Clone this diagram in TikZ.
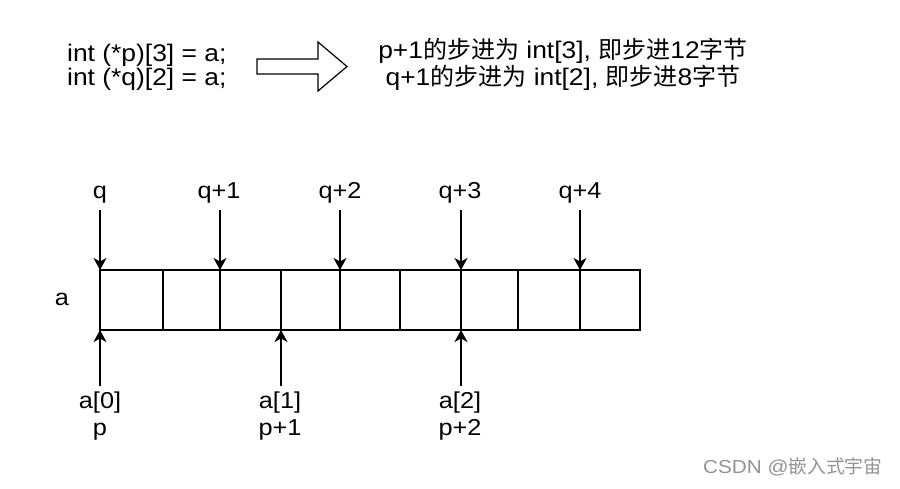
\documentclass[tikz,border=0pt]{standalone}
\usepackage{fontspec}
\setmainfont[FakeStretch=1.1]{Liberation Sans}
\newfontfamily\cjk[Scale=1.0]{Noto Sans CJK SC}
\usetikzlibrary{arrows.meta}
\begin{document}
\begin{tikzpicture}[x=1pt,y=-1pt,
  codetxt/.style={font=\fontsize{24}{23.5}\selectfont, inner sep=0pt, anchor=base west, align=left},
  steptxt/.style={font=\fontsize{24}{23.5}\selectfont, inner sep=0pt, anchor=base, align=center},
  lbl/.style={font=\fontsize{23}{27}\selectfont, inner sep=0pt, anchor=base, align=center},
  ptr/.style={line width=1.3pt, -{Stealth[length=12pt,width=13pt,inset=3.5pt]}},
  cellline/.style={line width=1.3pt},
  bigarrow/.style={line width=1.2pt, line join=miter},
  wmark/.style={font=\fontsize{18.8}{21}\selectfont, text=black!42, inner sep=0pt, anchor=base west}]
\useasboundingbox[fill=white] (0,0) rectangle (900,488);

% top texts (anchor = baseline of last line)
\node[codetxt] (decl) at (67,85) {int (*p)[3] = a;\\int (*q)[2] = a;};
\node[steptxt] (step) at (563,85) {p+1{\cjk 的步进为} int[3], {\cjk 即步进}12{\cjk 字节}\\q+1{\cjk 的步进为} int[2], {\cjk 即步进}8{\cjk 字节}};
\draw[bigarrow] (257,59) -- (318,59) -- (318,42) -- (347,66.5) -- (318,91) -- (318,74) -- (257,74) -- cycle;

% array boundaries
\foreach \x [count=\i from 0] in {100,163,220,281,340,400,461,518,580,640} {
  \coordinate (t\i) at (\x,270);
  \coordinate (b\i) at (\x,330);
}
\draw[cellline] (t0) rectangle (b9);
\foreach \i in {1,...,8} { \draw[cellline] (t\i) -- (b\i); }
\node[lbl, anchor=center] (alabel) at (62,299) {a};

% q pointers
\node[lbl] (q0) at (100,198) {q};
\node[lbl] (q1) at (219,198) {q+1};
\node[lbl] (q2) at (340,198) {q+2};
\node[lbl] (q3) at (460,198) {q+3};
\node[lbl] (q4) at (580,198) {q+4};
\coordinate (qs0) at (100,210);
\coordinate (qs1) at (220,210);
\coordinate (qs2) at (340,210);
\coordinate (qs3) at (461,210);
\coordinate (qs4) at (580,210);
\draw[ptr] (qs0) -- (t0);
\draw[ptr] (qs1) -- (t2);
\draw[ptr] (qs2) -- (t4);
\draw[ptr] (qs3) -- (t6);
\draw[ptr] (qs4) -- (t8);

% a / p pointers
\node[lbl] (a0) at (100,435) {a[0]\\p};
\node[lbl] (a1) at (280,435) {a[1]\\p+1};
\node[lbl] (a2) at (460,435) {a[2]\\p+2};
\coordinate (as0) at (100,386);
\coordinate (as1) at (281,386);
\coordinate (as2) at (461,386);
\draw[ptr] (as0) -- (b0);
\draw[ptr] (as1) -- (b3);
\draw[ptr] (as2) -- (b6);

% watermark
\node[wmark] (wm) at (703,473) {CSDN @{\cjk 嵌入式宇宙}};
\end{tikzpicture}
\end{document}
